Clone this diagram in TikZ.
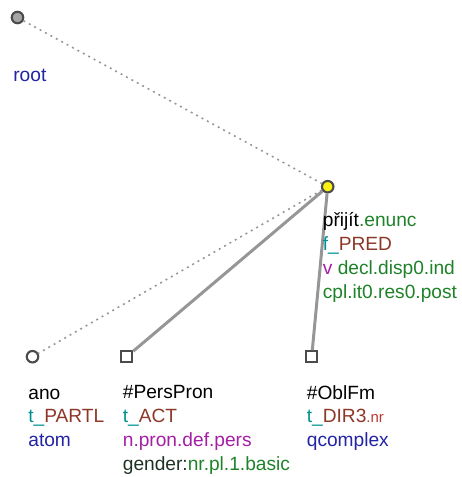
\documentclass[tikz,border=0pt]{standalone}
\usepackage{fontspec}
\setmainfont{Liberation Sans}
\usetikzlibrary{positioning}
\definecolor{EdgeGray}{RGB}{150,150,150}
\definecolor{RimGray}{RGB}{75,75,75}
\definecolor{RootGray}{RGB}{165,165,165}
\definecolor{HeadYellow}{RGB}{250,240,20}
\definecolor{TagBlue}{RGB}{35,35,165}
\definecolor{FuncTeal}{RGB}{0,145,145}
\definecolor{FuncBrown}{RGB}{140,55,40}
\definecolor{AttrGreen}{RGB}{30,130,40}
\definecolor{PosPurple}{RGB}{165,30,165}
\definecolor{NrRed}{RGB}{185,55,50}
\definecolor{GramDark}{RGB}{30,50,35}
\tikzset{
  tnode/.style={circle,draw=RimGray,line width=1.2pt,fill=white,
    minimum size=0.23cm,inner sep=0pt},
  hidnode/.style={rectangle,draw=RimGray,line width=1.2pt,fill=white,
    minimum size=0.22cm,inner sep=0pt},
  tlabel/.style={anchor=base west,inner sep=0pt,align=left,
    font=\fontsize{10.9}{13.5}\selectfont},
  deplink/.style={EdgeGray,line width=1.7pt},
  coaplink/.style={EdgeGray,line width=0.9pt,dash pattern=on 1.1pt off 2.4pt}
}

\begin{document}
\begin{tikzpicture}[x=0.02cm,y=-0.02cm]
\useasboundingbox (0,0) rectangle (461,477);

% tree nodes
\node[tnode,fill=RootGray] (root) at (17.5,17.5) {};
\node[tnode,fill=HeadYellow] (prijit) at (327.7,186.7) {};
\node[tnode] (ano) at (32.5,356.7) {};
\node[hidnode] (perspron) at (126.7,356.7) {};
\node[hidnode] (oblfm) at (311.7,356.7) {};

% edges
\draw[coaplink] (root) -- (prijit);
\draw[coaplink] (prijit) -- (ano);
\draw[deplink] (prijit) -- (perspron);
\draw[deplink] (prijit) -- (oblfm);

% labels (placed at the baseline of their last line)
\node[tlabel] (rootlbl) at (13,81) {\textcolor{TagBlue}{root}};
\node[tlabel] (prijitlbl) at (322.5,298) {%
  přijít\textcolor{AttrGreen}{.enunc}\\
  \textcolor{FuncTeal}{f\_}\textcolor{FuncBrown}{PRED}\\
  \textcolor{PosPurple}{v} \textcolor{AttrGreen}{decl.disp0.ind}\\
  \textcolor{AttrGreen}{cpl.it0.res0.post}};
\node[tlabel] (anolbl) at (28,446.5) {%
  ano\\
  \textcolor{FuncTeal}{t\_}\textcolor{FuncBrown}{PARTL}\\
  \textcolor{TagBlue}{atom}};
\node[tlabel] (persponlbl) at (122.5,470) {%
  \#PersPron\\
  \textcolor{FuncTeal}{t\_}\textcolor{FuncBrown}{ACT}\\
  \textcolor{PosPurple}{n.pron.def.pers}\\
  \textcolor{GramDark}{gender:}\textcolor{AttrGreen}{nr.pl.1.basic}};
\node[tlabel] (oblfmlbl) at (306.5,446.5) {%
  \#OblFm\\
  \textcolor{FuncTeal}{t\_}\textcolor{FuncBrown}{DIR3}\textcolor{NrRed}{\fontsize{8.5}{13.5}\selectfont.nr}\\
  \textcolor{TagBlue}{qcomplex}};

\end{tikzpicture}
\end{document}
